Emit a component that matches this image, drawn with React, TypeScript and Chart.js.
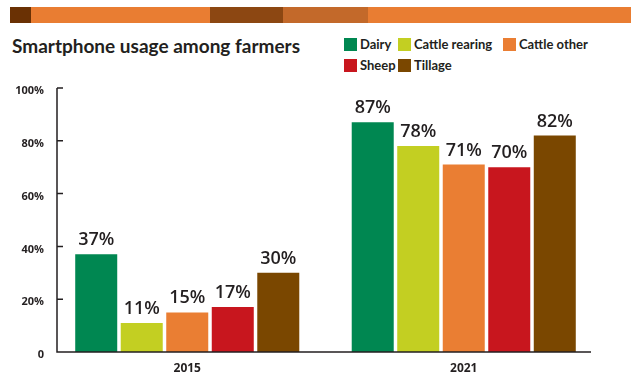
import React, { useEffect, useRef } from "react";
import { Chart, registerables } from "chart.js";

Chart.register(...registerables);

const categories = ["2015", "2021"];
const seriesNames = ["Dairy", "Cattle rearing", "Cattle other", "Sheep", "Tillage"];
const dairy = [37, 87];
const cattleRearing = [11, 78];
const cattleOther = [15, 71];
const sheep = [17, 70];
const tillage = [30, 82];
const seriesColors = ["#008751", "#C3CF22", "#EA7E33", "#C8161E", "#7A4700"];
const yTicks = [0, 20, 40, 60, 80, 100];
const titleText = "Smartphone usage among farmers";

const bandSegments = [
  { from: 10, to: 31, color: "#6A3104" },
  { from: 31, to: 210, color: "#E97D32" },
  { from: 210, to: 283, color: "#8C4712" },
  { from: 283, to: 368, color: "#C3692A" },
  { from: 368, to: 631, color: "#E97D32" },
];

const FONT = "'Open Sans', 'Noto Sans', sans-serif";
const HEAD_FONT = "Lato, 'Open Sans', sans-serif";
const INK = "#231F20";

const axisPlugin = {
  id: "customAxes",
  afterDatasetsDraw(chart: any) {
    const { ctx, chartArea, scales } = chart;
    const y = scales.y;
    const x0 = chartArea.left + 8;
    const x1 = chartArea.right - 11;
    const yb = y.getPixelForValue(0);
    const yt = y.getPixelForValue(100);
    ctx.save();
    ctx.strokeStyle = INK;
    ctx.lineWidth = 1.5;
    ctx.beginPath();
    ctx.moveTo(x0, yt);
    ctx.lineTo(x0, yb);
    ctx.lineTo(x1, yb);
    yTicks.forEach((v) => {
      if (v === 0) return;
      const py = y.getPixelForValue(v);
      ctx.moveTo(x0, py);
      ctx.lineTo(x0 + 6, py);
    });
    ctx.stroke();
    ctx.restore();
  },
};

const labelPlugin = {
  id: "valueLabels",
  afterDatasetsDraw(chart: any) {
    const { ctx } = chart;
    ctx.save();
    ctx.fillStyle = INK;
    ctx.font = `600 18px ${FONT}`;
    ctx.textAlign = "center";
    ctx.textBaseline = "alphabetic";
    chart.data.datasets.forEach((ds: any, i: number) => {
      const meta = chart.getDatasetMeta(i);
      meta.data.forEach((el: any, j: number) => {
        ctx.fillText(`${ds.data[j]}%`, el.x, el.y - 9);
      });
    });
    ctx.restore();
  },
};

function App() {
  const canvasRef = useRef<HTMLCanvasElement>(null);

  useEffect(() => {
    document.body.style.margin = "0";
    const values = [dairy, cattleRearing, cattleOther, sheep, tillage];
    const chart = new Chart(canvasRef.current as HTMLCanvasElement, {
      type: "bar",
      data: {
        labels: categories,
        datasets: seriesNames.map((name, i) => ({
          label: name,
          data: values[i],
          backgroundColor: seriesColors[i],
          borderWidth: 0,
          categoryPercentage: 0.823,
          barPercentage: 0.923,
        })),
      },
      options: {
        animation: false,
        responsive: false,
        maintainAspectRatio: false,
        layout: { padding: { top: 88, right: 38, left: 0, bottom: 0 } },
        plugins: {
          legend: { display: false },
          tooltip: { enabled: false },
          title: { display: false },
        },
        scales: {
          x: {
            grid: { display: false, drawTicks: false },
            border: { display: false },
            ticks: {
              color: INK,
              font: { family: FONT, size: 12, weight: "bold" },
              padding: 9,
            },
            afterFit: (s: any) => {
              s.height = 38;
            },
          },
          y: {
            min: 0,
            max: 100,
            grid: { display: false, drawTicks: false },
            border: { display: false },
            afterBuildTicks: (s: any) => {
              s.ticks = yTicks.map((v) => ({ value: v }));
            },
            ticks: {
              color: INK,
              font: { family: FONT, size: 11, weight: "bold" },
              padding: 5,
              labelOffset: 3,
              callback: (v: any) => (Number(v) === 0 ? "0" : `${v}%`),
            },
            afterFit: (s: any) => {
              s.width = 49;
            },
          },
        },
      },
      plugins: [axisPlugin, labelPlugin],
    });
    return () => chart.destroy();
  }, []);

  return (
    <div style={{ position: "relative", width: 640, height: 390, background: "#fff", overflow: "hidden" }}>
      {bandSegments.map((s, i) => (
        <div
          key={i}
          style={{ position: "absolute", top: 7, height: 16, left: s.from, width: s.to - s.from, background: s.color }}
        />
      ))}
      <div
        style={{
          position: "absolute",
          left: 12,
          top: 36,
          fontFamily: HEAD_FONT,
          fontWeight: 700,
          fontSize: 19,
          lineHeight: "19px",
          color: INK,
          whiteSpace: "nowrap",
        }}
      >
        {titleText}
      </div>
      <div
        style={{
          position: "absolute",
          left: 344,
          top: 38,
          display: "grid",
          gridTemplateColumns: "54px 105px auto",
          rowGap: 8,
          fontFamily: HEAD_FONT,
          fontWeight: 700,
          fontSize: 13,
          lineHeight: "13px",
          color: INK,
        }}
      >
        {seriesNames.map((name, i) => (
          <div key={name} style={{ display: "flex", alignItems: "center", whiteSpace: "nowrap" }}>
            <span style={{ display: "inline-block", width: 13, height: 13, background: seriesColors[i], marginRight: 3 }} />
            <span>{name}</span>
          </div>
        ))}
      </div>
      <canvas ref={canvasRef} width={640} height={390} style={{ position: "absolute", left: 0, top: 0 }} />
    </div>
  );
}

export default App;
